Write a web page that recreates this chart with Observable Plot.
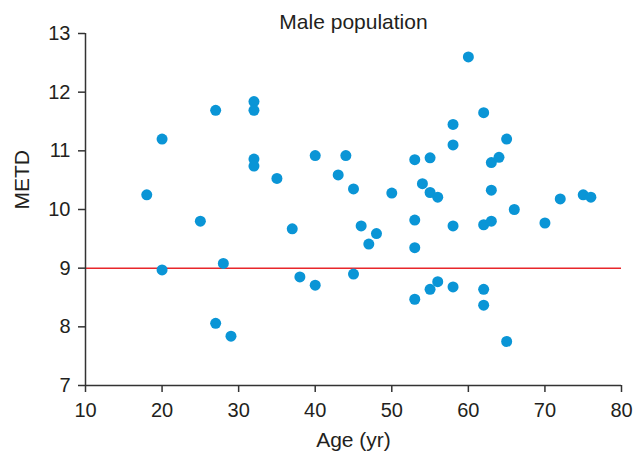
<!DOCTYPE html>
<html>
<head>
<meta charset="utf-8">
<script src="https://cdn.jsdelivr.net/npm/d3@7"></script>
<script src="https://cdn.jsdelivr.net/npm/@observablehq/plot@0.6"></script>
<style>
  html, body { margin: 0; padding: 0; background: #fff; }
</style>
</head>
<body>
<div id="chart"></div>
<script>
const title = "Male population";
const xLabel = "Age (yr)";
const yLabel = "METD";
const xTicks = [10, 20, 30, 40, 50, 60, 70, 80];
const yTicks = [7, 8, 9, 10, 11, 12, 13];
const threshold = [9];

const ages = [18, 20, 20, 25, 27, 28, 27, 29, 32, 32, 32, 32, 35, 37, 38, 40, 40, 43, 44, 45, 45, 46, 47, 48, 50,
  53, 53, 53, 53, 54, 55, 55, 55, 56, 56, 58, 58, 58, 58, 60, 62, 62, 62, 62, 63, 63, 63, 64, 65, 65, 66, 70, 72, 75, 76];
const metd = [10.25, 11.2, 8.97, 9.8, 11.69, 9.08, 8.06, 7.84, 11.84, 11.69, 10.86, 10.74, 10.53, 9.67, 8.85, 10.92, 8.71, 10.59, 10.92, 10.35, 8.9, 9.72, 9.41, 9.59, 10.28,
  10.85, 9.82, 9.35, 8.47, 10.44, 10.88, 10.29, 8.64, 10.21, 8.77, 11.45, 11.1, 9.72, 8.68, 12.6, 11.65, 9.74, 8.64, 8.37, 10.8, 10.33, 9.8, 10.89, 11.2, 7.75, 10.0, 9.77, 10.18, 10.25, 10.21];

const data = ages.map((a, i) => ({age: a, metd: metd[i]}));
const axisColor = "#333333";
const textColor = "#231f20";

const chart = Plot.plot({
  width: 635,
  height: 453,
  marginTop: 33,
  marginRight: 14,
  marginBottom: 68,
  marginLeft: 85,
  style: {fontFamily: "'Liberation Sans', Arial, sans-serif", fontSize: "20px", color: textColor, background: "#fff"},
  x: {domain: [10, 80]},
  y: {domain: [7, 13]},
  marks: [
    Plot.ruleY(threshold, {stroke: "#e8262b", strokeWidth: 1.5}),
    Plot.dot(data, {x: "age", y: "metd", r: 5.5, fill: "#0a95d6", stroke: "none"}),
    Plot.ruleX([10], {stroke: axisColor, strokeWidth: 1.5}),
    Plot.ruleY([7], {stroke: axisColor, strokeWidth: 1.5}),
    Plot.axisX({ticks: xTicks, tickFormat: "d", tickSize: 7, tickPadding: 10, stroke: axisColor, strokeWidth: 1.5,
      fontSize: 20, fill: textColor, label: null}),
    Plot.axisY({ticks: yTicks, tickFormat: "d", tickSize: 7, tickPadding: 8, stroke: axisColor, strokeWidth: 1.5,
      fontSize: 20, fill: textColor, label: null}),
    Plot.text([xLabel], {frameAnchor: "bottom", lineAnchor: "middle", dy: 55, fontSize: 21, fill: textColor}),
    Plot.text([yLabel], {frameAnchor: "left", lineAnchor: "middle", dx: -63, rotate: -90, fontSize: 21, fill: textColor}),
    Plot.text([title], {frameAnchor: "top", lineAnchor: "middle", dy: -11, fontSize: 21, fill: textColor})
  ]
});
document.getElementById("chart").appendChild(chart);
</script>
</body>
</html>
